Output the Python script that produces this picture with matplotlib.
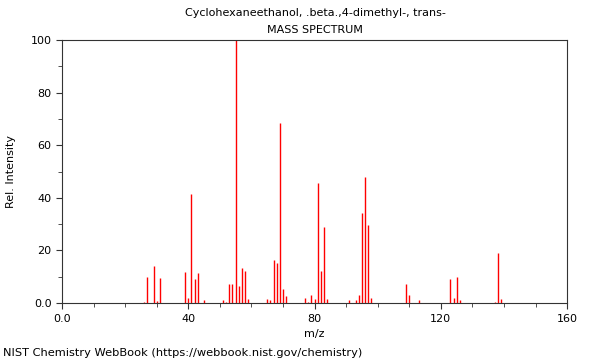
import matplotlib
matplotlib.use("Agg")
import matplotlib.pyplot as plt
from matplotlib.ticker import MultipleLocator, FixedLocator

mz = [26, 27, 29, 30, 31, 39, 40, 41, 42, 43, 45, 51, 52, 53, 54, 55, 56, 57, 58, 59,
      65, 66, 67, 68, 69, 70, 71, 77, 78, 79, 80, 81, 82, 83, 84,
      91, 93, 94, 95, 96, 97, 98, 109, 110, 113, 123, 124, 125, 126, 137, 138, 139]
intensity = [0.5, 9.9, 14.1, 0.7, 9.7, 11.8, 2.0, 41.4, 9.1, 11.4, 1.0, 1.3, 0.6, 7.2, 7.2, 100.0, 6.5, 13.4, 12.3, 1.5,
             1.5, 1.2, 16.3, 15.3, 68.6, 5.3, 2.7, 2.0, 0.6, 3.0, 1.5, 45.6, 12.3, 28.8, 1.5,
             1.0, 1.0, 3.0, 34.2, 48.0, 29.8, 1.9, 7.2, 3.0, 1.0, 9.1, 1.9, 10.0, 1.0, 0.5, 19.0, 1.6]

title1 = "Cyclohexaneethanol, .beta.,4-dimethyl-, trans-"
title2 = "MASS SPECTRUM"
footer = "NIST Chemistry WebBook (https://webbook.nist.gov/chemistry)"
xticks = [0, 40, 80, 120, 160]
xticklabels = ["0.0", "40", "80", "120", "160"]
yticks = [0, 20, 40, 60, 80, 100]
yticklabels = ["0.0", "20", "40", "60", "80", "100"]

fig = plt.figure(figsize=(6, 3.6), dpi=100)
ax = fig.add_axes([0.1033, 0.158, 0.842, 0.731])
ax.vlines(mz, 0, intensity, colors="#ff0000", linewidth=1.0)
ax.set_xlim(0, 160)
ax.set_ylim(0, 100)
ax.xaxis.set_major_locator(FixedLocator(xticks))
ax.set_xticklabels(xticklabels)
ax.yaxis.set_major_locator(FixedLocator(yticks))
ax.set_yticklabels(yticklabels)
ax.xaxis.set_minor_locator(MultipleLocator(10))
ax.yaxis.set_minor_locator(MultipleLocator(10))
ax.tick_params(which="both", direction="out", labelsize=8, color="#333333")
ax.tick_params(which="major", length=4)
ax.tick_params(which="minor", length=3)
for s in ax.spines.values():
    s.set_color("#333333")
ax.set_xlabel("m/z", fontsize=8)
ax.set_ylabel("Rel. Intensity", fontsize=8)
ax.yaxis.set_label_coords(-0.092, 0.5)
fig.text(0.525, 0.963, title1, ha="center", va="center", fontsize=8)
fig.text(0.525, 0.916, title2, ha="center", va="center", fontsize=8)
fig.text(0.005, 0.02, footer, ha="left", va="center", fontsize=8.2)
fig.savefig("out.png", dpi=100)
